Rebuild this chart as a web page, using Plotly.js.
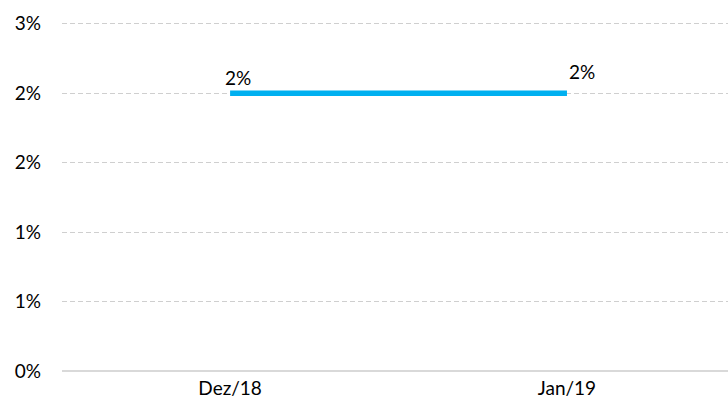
<!DOCTYPE html>
<html>
<head>
<meta charset="utf-8">
<script src="https://cdn.plot.ly/plotly-3.0.1.min.js"></script>
<style>html,body{margin:0;padding:0;background:#fff;}#chart{width:728px;height:408px;}</style>
</head>
<body>
<div id="chart"></div>
<script>
var categories = ["Dez/18", "Jan/19"];
var values = [0.02, 0.02];
var labels = ["2%", "2%"];
var yTickVals = [0, 0.005, 0.01, 0.015, 0.02, 0.025];
var yTickText = ["0%", "1%", "1%", "2%", "2%", "3%"];

var font = {family: "Lato, 'Open Sans', sans-serif", size: 19, color: "#000"};

var trace = {
  x: categories,
  y: values,
  type: "scatter",
  mode: "lines",
  line: {color: "#00b0f0", width: 5.5},
  hoverinfo: "none"
};

var shifts = [{x: 8, y: 16}, {x: 15, y: 22}];
var annotations = categories.map(function (c, i) {
  return {
    x: c, y: values[i], xref: "x", yref: "y",
    text: labels[i], showarrow: false,
    xshift: shifts[i].x, yshift: shifts[i].y,
    font: font
  };
});

var layout = {
  width: 728, height: 408,
  margin: {l: 62, r: 0, t: 21, b: 37},
  paper_bgcolor: "#fff", plot_bgcolor: "#fff",
  font: font,
  showlegend: false,
  xaxis: {
    type: "category",
    range: [-0.499, 1.478],
    showgrid: false, zeroline: false,
    showline: false, ticks: "",
    ticklabelstandoff: 4,
    tickfont: font
  },
  yaxis: {
    range: [0, 0.0252],
    tickvals: yTickVals, ticktext: yTickText,
    showgrid: true, gridcolor: "#cfcfcf", griddash: "5px,3px", gridwidth: 1,
    zeroline: true, zerolinecolor: "#d9d9d9", zerolinewidth: 2,
    showline: false, ticks: "",
    ticklabelstandoff: 20,
    tickfont: font
  },
  annotations: annotations
};

Plotly.newPlot("chart", [trace], layout, {staticPlot: true, displayModeBar: false});
</script>
</body>
</html>
